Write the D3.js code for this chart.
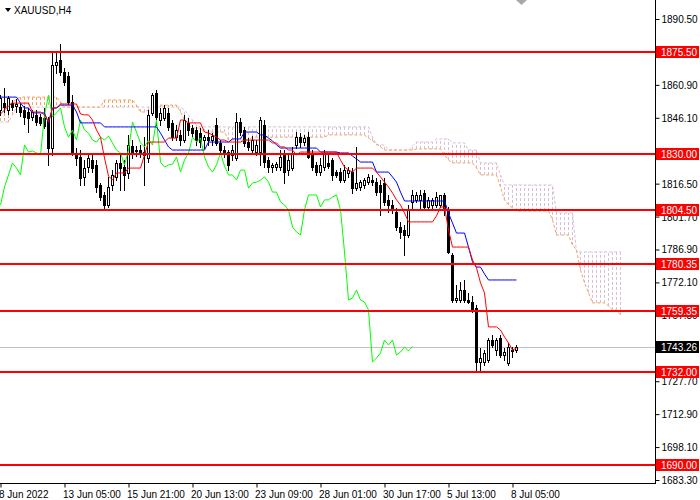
<!DOCTYPE html>
<html>
<head>
<meta charset="utf-8">
<script src="https://cdn.jsdelivr.net/npm/d3@7"></script>
<style>
  body { margin: 0; background: #fff; }
  svg text { font-family: "Liberation Sans", Arial, sans-serif; font-size: 10px; }
</style>
</head>
<body>
<div id="chart"></div>
<script>
// XAUUSD H4, one value per bar (bar 0 = 8 Jun 2022 13:00)
var opens = [
  1849.6, 1852.7, 1849.6, 1852.7, 1851.4, 1850.9, 1849.6, 1848.7, 1846.5, 1847.4,
  1846.5, 1846.0, 1845.1, 1832.5, 1869.8, 1872.1, 1866.7, 1864.9, 1853.2, 1830.3,
  1828.5, 1819.5, 1824.0, 1827.1, 1824.9, 1815.9, 1811.4, 1806.9, 1815.9, 1819.5,
  1825.8, 1824.0, 1821.3, 1833.4, 1831.6, 1831.6, 1830.7, 1828.0, 1848.3, 1857.2,
  1845.1, 1846.0, 1848.3, 1843.8, 1837.4, 1838.4, 1836.1, 1843.8, 1841.5, 1840.6,
  1839.2, 1836.1, 1837.4, 1836.1, 1842.9, 1834.8, 1831.6, 1830.7, 1829.4, 1828.0,
  1844.2, 1840.6, 1835.2, 1831.6, 1830.7, 1830.7, 1842.9, 1827.1, 1824.0, 1824.0,
  1824.0, 1830.3, 1822.6, 1823.5, 1833.9, 1837.4, 1835.2, 1837.4, 1829.4, 1824.9,
  1821.7, 1824.0, 1825.8, 1827.1, 1821.7, 1821.7, 1818.1, 1821.3, 1821.7, 1814.5,
  1815.0, 1815.9, 1817.2, 1818.1, 1817.2, 1815.9, 1816.8, 1809.2, 1806.9, 1803.8,
  1797.0, 1795.7, 1793.4, 1808.3, 1809.2, 1809.2, 1812.3, 1806.0, 1806.9, 1806.9,
  1806.9, 1811.4, 1804.7, 1784.4, 1764.2, 1764.2, 1768.7, 1764.2, 1763.3, 1760.6,
  1736.3, 1736.3, 1737.2, 1746.2, 1741.7, 1747.1, 1739.5, 1735.9, 1741.7, 1741.7
];
var highs = [
  1856.3, 1859.5, 1855.9, 1854.1, 1854.5, 1852.3, 1851.4, 1850.5, 1849.6, 1849.6,
  1847.8, 1850.5, 1846.5, 1875.2, 1875.7, 1879.3, 1868.5, 1866.7, 1856.3, 1832.5,
  1831.6, 1827.1, 1829.4, 1829.4, 1827.1, 1816.8, 1812.7, 1819.5, 1822.6, 1827.1,
  1829.4, 1827.1, 1838.4, 1836.1, 1833.4, 1833.9, 1837.4, 1849.6, 1857.2, 1858.6,
  1850.5, 1851.8, 1850.5, 1845.1, 1842.9, 1840.6, 1847.4, 1846.0, 1842.9, 1842.0,
  1841.5, 1838.4, 1840.6, 1839.2, 1846.0, 1836.1, 1833.4, 1831.6, 1833.9, 1848.3,
  1846.0, 1842.0, 1837.0, 1837.9, 1836.1, 1846.5, 1845.1, 1828.5, 1825.8, 1826.2,
  1831.6, 1831.6, 1829.4, 1833.0, 1839.7, 1839.2, 1838.4, 1839.7, 1831.6, 1826.2,
  1828.0, 1831.6, 1830.3, 1828.0, 1822.6, 1823.5, 1824.9, 1824.0, 1823.5, 1833.0,
  1818.1, 1819.0, 1820.8, 1820.4, 1819.0, 1818.1, 1819.0, 1811.4, 1809.2, 1805.6,
  1799.3, 1797.9, 1806.9, 1813.6, 1812.7, 1813.6, 1813.6, 1810.5, 1810.1, 1812.7,
  1811.4, 1812.3, 1806.0, 1785.3, 1771.0, 1772.3, 1773.2, 1767.4, 1766.0, 1762.0,
  1742.6, 1741.7, 1747.1, 1748.5, 1747.1, 1748.5, 1742.6, 1744.9, 1743.1, 1744.0
];
var lows = [
  1847.4, 1848.7, 1847.8, 1849.6, 1848.7, 1846.9, 1843.3, 1839.7, 1845.1, 1842.9,
  1842.9, 1841.5, 1824.9, 1829.4, 1866.2, 1865.3, 1860.8, 1852.3, 1829.4, 1824.9,
  1815.9, 1815.9, 1821.7, 1821.7, 1812.7, 1809.2, 1804.7, 1806.0, 1813.6, 1818.1,
  1813.6, 1813.6, 1819.0, 1828.0, 1828.9, 1828.5, 1815.9, 1826.2, 1847.4, 1842.9,
  1842.9, 1845.1, 1840.6, 1836.1, 1836.1, 1833.9, 1835.2, 1838.4, 1837.9, 1833.9,
  1833.0, 1832.5, 1833.9, 1833.9, 1833.9, 1830.3, 1828.5, 1822.6, 1827.1, 1827.1,
  1838.4, 1833.4, 1831.6, 1830.7, 1829.4, 1824.9, 1824.0, 1821.7, 1821.7, 1822.6,
  1822.6, 1816.8, 1820.4, 1822.6, 1832.5, 1833.0, 1833.9, 1828.0, 1822.6, 1820.4,
  1820.4, 1822.6, 1823.5, 1818.1, 1819.5, 1817.2, 1817.2, 1819.5, 1812.3, 1813.6,
  1813.6, 1814.5, 1816.3, 1815.9, 1811.4, 1802.4, 1806.9, 1803.8, 1803.3, 1795.7,
  1792.1, 1784.4, 1792.5, 1804.7, 1808.3, 1804.7, 1805.6, 1804.7, 1805.6, 1806.0,
  1806.0, 1802.4, 1785.3, 1763.3, 1763.3, 1763.3, 1763.3, 1762.9, 1758.8, 1731.9,
  1732.8, 1735.0, 1736.3, 1743.1, 1739.5, 1738.6, 1737.2, 1735.0, 1738.6, 1740.8
];
var closes = [
  1855.0, 1850.9, 1855.0, 1850.9, 1852.3, 1848.7, 1846.5, 1846.0, 1848.7, 1844.2,
  1843.8, 1842.4, 1832.5, 1869.8, 1871.2, 1866.7, 1862.2, 1853.2, 1830.3, 1828.0,
  1819.0, 1823.5, 1828.0, 1823.5, 1815.0, 1810.5, 1806.9, 1815.0, 1820.4, 1825.8,
  1823.5, 1820.4, 1833.9, 1830.7, 1831.2, 1830.3, 1829.4, 1847.4, 1856.3, 1846.5,
  1848.3, 1850.5, 1842.0, 1837.4, 1840.6, 1836.1, 1845.1, 1840.6, 1839.2, 1836.1,
  1835.2, 1837.4, 1836.1, 1837.9, 1834.8, 1831.6, 1830.3, 1824.9, 1831.6, 1844.2,
  1839.7, 1834.8, 1833.0, 1836.1, 1833.9, 1845.1, 1826.2, 1824.0, 1824.9, 1825.3,
  1828.5, 1821.7, 1827.1, 1830.3, 1837.4, 1835.2, 1837.0, 1828.5, 1824.0, 1821.7,
  1824.9, 1830.3, 1824.4, 1820.4, 1820.4, 1818.1, 1822.6, 1822.6, 1814.5, 1816.8,
  1817.2, 1818.1, 1819.5, 1817.2, 1812.7, 1812.7, 1808.3, 1806.9, 1804.7, 1797.0,
  1794.8, 1793.4, 1804.7, 1811.4, 1811.4, 1811.4, 1806.0, 1809.2, 1809.2, 1810.5,
  1811.4, 1804.7, 1785.8, 1764.2, 1765.1, 1768.7, 1764.2, 1763.3, 1759.7, 1736.3,
  1738.1, 1740.4, 1746.2, 1744.0, 1746.2, 1739.5, 1740.8, 1743.1, 1741.3, 1743.26
];

// Ichimoku lines: [first bar, value]
var tenkanRuns = [
  [0, 1847.8], [1, 1849.6], [2, 1851.4], [3, 1852.7], [8, 1848.7], [11, 1847.4], [12, 1844.2],
  [13, 1850.5], [15, 1852.3], [20, 1847.8], [21, 1847.4], [23, 1845.1], [24, 1840.6], [25, 1837.4],
  [26, 1828.0], [27, 1819.9], [28, 1818.1], [29, 1821.3], [32, 1823.5], [36, 1829.4], [37, 1835.2],
  [42, 1837.0], [45, 1845.1], [47, 1843.8], [51, 1839.7], [52, 1839.2], [53, 1838.4], [54, 1837.4],
  [55, 1836.1], [57, 1835.2], [61, 1836.1], [68, 1834.8], [70, 1833.0], [72, 1831.6], [74, 1829.4],
  [75, 1830.7], [85, 1827.1], [86, 1824.0], [87, 1822.6], [88, 1821.7], [89, 1823.5], [94, 1821.7],
  [95, 1819.5], [96, 1817.2], [97, 1815.0], [98, 1812.3], [99, 1809.2], [100, 1806.9], [101, 1803.3],
  [102, 1799.3], [109, 1802.0], [110, 1806.0], [112, 1795.7], [113, 1788.0], [118, 1782.2],
  [119, 1778.6], [120, 1771.9], [121, 1767.4], [122, 1752.1], [125, 1750.7], [126, 1747.6],
  [127, 1744.9], [128, 1741.7], [129, 1742.6]
];
var kijunRuns = [
  [0, 1855.4], [5, 1852.7], [6, 1850.5], [8, 1848.3], [12, 1843.8], [13, 1850.5], [15, 1851.8],
  [19, 1848.7], [20, 1843.8], [26, 1842.0], [40, 1839.2], [41, 1836.1], [42, 1833.0], [43, 1831.6],
  [52, 1835.2], [58, 1836.6], [61, 1839.7], [65, 1838.4], [67, 1837.0], [68, 1835.7], [69, 1833.9],
  [70, 1832.5], [80, 1830.7], [85, 1830.3], [88, 1828.9], [89, 1827.6], [90, 1826.2], [94, 1821.7],
  [98, 1819.5], [99, 1817.2], [100, 1812.7], [101, 1808.7], [112, 1803.3], [113, 1798.8],
  [114, 1794.3], [117, 1788.0], [118, 1781.3], [119, 1779.0], [121, 1775.9], [122, 1773.2]
];
// cloud runs, bars 0..155 (26 bars ahead of the last candle)
var spanARuns = [
  [0, 1850.5], [2, 1851.8], [3, 1853.2], [4, 1854.5], [5, 1855.4], [15, 1853.2], [16, 1850.9],
  [26, 1854.1], [34, 1851.8], [35, 1848.7], [37, 1849.6], [38, 1850.9], [39, 1851.8], [45, 1848.7],
  [46, 1845.1], [47, 1842.9], [48, 1841.5], [51, 1839.7], [57, 1836.1], [63, 1837.4], [82, 1838.4],
  [92, 1837.0], [93, 1835.7], [94, 1834.3], [95, 1833.0], [96, 1831.6], [104, 1832.1], [111, 1829.4],
  [112, 1827.1], [113, 1825.8], [119, 1823.5], [120, 1820.4], [125, 1815.0], [126, 1809.2],
  [127, 1806.9], [128, 1805.6], [129, 1804.2], [138, 1800.2], [139, 1793.4], [143, 1788.9],
  [144, 1786.7], [145, 1777.7], [146, 1771.9], [147, 1767.4], [148, 1762.9], [152, 1761.5],
  [153, 1759.7], [155, 1757.5]
];
var spanBRuns = [
  [0, 1844.2], [3, 1847.4], [4, 1850.9], [46, 1849.6], [47, 1847.4], [48, 1845.1], [49, 1842.9],
  [50, 1842.0], [93, 1837.4], [94, 1833.9], [97, 1831.6], [103, 1833.4], [104, 1835.2], [109, 1836.6],
  [113, 1834.8], [117, 1831.6], [120, 1825.8], [125, 1820.4], [126, 1815.9], [139, 1803.3], [144, 1785.8]
];
var cloudBars = 156;

// horizontal levels
var levels = [1875.50, 1830.00, 1804.50, 1780.35, 1759.35, 1732.00, 1690.00];
var bid = 1743.26;

// axis ticks (labels hidden behind a price tag are not drawn, as on the terminal)
var yTicks = [1890.50, 1875.70, 1860.90, 1846.10, 1831.30, 1816.50, 1801.70, 1786.90,
  1772.10, 1757.30, 1742.50, 1727.70, 1712.90, 1698.10, 1683.30];
var xTickBars = [0, 16, 32, 48, 64, 80, 96, 112, 128];
var xTickLabels = ["8 Jun 2022", "13 Jun 05:00", "15 Jun 21:00", "20 Jun 13:00", "23 Jun 09:00",
  "28 Jun 01:00", "30 Jun 17:00", "5 Jul 13:00", "8 Jul 05:00"];

function expandRuns(runs, n) {
  var out = [];
  for (var k = 0; k < runs.length; k++) {
    var end = k + 1 < runs.length ? runs[k + 1][0] : n;
    for (var i = runs[k][0]; i < end; i++) out.push(runs[k][1]);
  }
  return out;
}

var tenkan = expandRuns(tenkanRuns, closes.length);
var kijun = expandRuns(kijunRuns, closes.length);
var spanA = expandRuns(spanARuns, cloudBars);
var spanB = expandRuns(spanBRuns, cloudBars);
// chikou: close drawn 26 bars back
var chikou = closes.slice(26);

var margin = { top: 0, right: 45, bottom: 17, left: 0 },
  width = 700 - margin.left - margin.right,
  height = 500 - margin.top - margin.bottom;

var svg = d3
  .select("#chart")
  .append("svg")
  .attr("width", 700)
  .attr("height", 500)
  .style("display", "block")
  .append("g")
  .attr("transform", "translate(" + margin.left + "," + margin.top + ")");

var x = d3.scaleLinear().domain([0, 130]).range([0.5, 520.5]);
var y = d3.scaleLinear().domain([1681.95, 1899.04]).range([height, 0]);

svg.append("clipPath").attr("id", "plot")
  .append("rect").attr("width", width).attr("height", height);

var plot = svg.append("g").attr("clip-path", "url(#plot)");

function py(v) { return Math.round(y(v)) + 0.5; }

// bid line
plot.append("line")
  .attr("x1", 0).attr("x2", width)
  .attr("y1", py(bid)).attr("y2", py(bid))
  .attr("stroke", "#c0c0c0");

// kumo hatch
var bars = d3.range(cloudBars);
plot.selectAll(".hatch")
  .data(bars)
  .enter()
  .append("line")
  .attr("class", "hatch")
  .attr("x1", function (i) { return x(i); })
  .attr("x2", function (i) { return x(i); })
  .attr("y1", function (i) { return y(spanA[i]); })
  .attr("y2", function (i) { return y(spanB[i]); })
  .attr("stroke", function (i) { return spanA[i] >= spanB[i] ? "#f4a460" : "#d8bfd8"; })
  .attr("stroke-dasharray", "3,2");

function lineOf(values) {
  return d3.line()
    .x(function (d, i) { return x(i); })
    .y(function (d) { return y(d); })(values);
}

plot.append("path").attr("d", lineOf(spanB))
  .attr("fill", "none").attr("stroke", "#d8bfd8").attr("stroke-dasharray", "3,2");
plot.append("path").attr("d", lineOf(spanA))
  .attr("fill", "none").attr("stroke", "#f4a460").attr("stroke-dasharray", "3,2");

// candles
var idx = d3.range(closes.length);
plot.selectAll(".wick")
  .data(idx)
  .enter()
  .append("line")
  .attr("class", "wick")
  .attr("x1", function (i) { return x(i); })
  .attr("x2", function (i) { return x(i); })
  .attr("y1", function (i) { return Math.round(y(highs[i])); })
  .attr("y2", function (i) { return Math.round(y(lows[i])) + 1; })
  .attr("stroke", "#000")
  .attr("shape-rendering", "crispEdges");

plot.selectAll(".body")
  .data(idx)
  .enter()
  .append("rect")
  .attr("class", "body")
  .attr("x", function (i) { return x(i) - 1; })
  .attr("width", 2)
  .attr("y", function (i) { return Math.round(y(Math.max(opens[i], closes[i]))) + 0.5; })
  .attr("height", function (i) {
    var h = Math.round(y(Math.min(opens[i], closes[i]))) - Math.round(y(Math.max(opens[i], closes[i])));
    return Math.max(h, 0);
  })
  .attr("fill", function (i) { return closes[i] > opens[i] ? "#fff" : "#000"; })
  .attr("stroke", "#000")
  .attr("shape-rendering", "crispEdges");

// ichimoku lines
plot.append("path").attr("d", lineOf(chikou))
  .attr("fill", "none").attr("stroke", "#00ff00");
plot.append("path").attr("d", lineOf(kijun))
  .attr("fill", "none").attr("stroke", "#0000ff");
plot.append("path").attr("d", lineOf(tenkan))
  .attr("fill", "none").attr("stroke", "#ff0000");

// horizontal levels
plot.selectAll(".level")
  .data(levels)
  .enter()
  .append("line")
  .attr("class", "level")
  .attr("x1", 0).attr("x2", width)
  .attr("y1", function (d) { return Math.round(y(d)); })
  .attr("y2", function (d) { return Math.round(y(d)); })
  .attr("stroke", "#ff0000")
  .attr("stroke-width", 2);

// chart shift marker
svg.append("path")
  .attr("d", "M516,0 L527,0 L521.5,5 Z")
  .attr("fill", "#a8a8a8");

// axes frame
svg.append("line").attr("x1", width + 0.5).attr("x2", width + 0.5)
  .attr("y1", 0).attr("y2", height + 1).attr("stroke", "#000");
svg.append("line").attr("x1", 0).attr("x2", width + 1)
  .attr("y1", height + 0.5).attr("y2", height + 0.5).attr("stroke", "#000");

var tagValues = levels.concat([bid]);
function hidden(v) {
  return tagValues.some(function (t) { return Math.abs(y(t) - y(v)) < 4; });
}

var yAxis = svg.append("g")
  .attr("transform", "translate(" + (width + 0.5) + ",0)")
  .call(d3.axisRight(y).tickValues(yTicks).tickSize(4).tickSizeOuter(0).tickPadding(2)
    .tickFormat(d3.format(".2f")));
yAxis.select(".domain").remove();
yAxis.selectAll("text").attr("dy", "0.35em");
yAxis.selectAll(".tick").filter(function (d) { return hidden(d); }).select("text").remove();
yAxis.attr("font-family", null).attr("font-size", null);

var xAxis = svg.append("g")
  .attr("transform", "translate(0," + (height + 0.5) + ")")
  .call(d3.axisBottom(x).tickValues(xTickBars).tickSize(4).tickSizeOuter(0).tickPadding(3)
    .tickFormat(function (d, i) { return xTickLabels[i]; }));
xAxis.select(".domain").remove();
xAxis.attr("font-family", null).attr("font-size", null);
xAxis.selectAll("text").attr("text-anchor", "start").attr("x", -2);

// level labels on the price scale
var tags = levels.map(function (v) { return { v: v, fill: "#ff0000" }; });
tags.push({ v: bid, fill: "#000000" });
var tag = svg.selectAll(".tag")
  .data(tags)
  .enter()
  .append("g")
  .attr("class", "tag")
  .attr("transform", function (d) { return "translate(" + (width + 1) + "," + Math.round(y(d.v)) + ")"; });
tag.append("rect")
  .attr("x", 0).attr("y", -6).attr("width", 43).attr("height", 12)
  .attr("fill", function (d) { return d.fill; });
tag.append("text")
  .attr("x", 5).attr("dy", "0.35em")
  .attr("fill", "#fff")
  .text(function (d) { return d.v.toFixed(2); });

// title
svg.append("path").attr("d", "M5,8 L11,8 L8,12 Z").attr("fill", "#000");
svg.append("text").attr("x", 14).attr("y", 14).attr("fill", "#000").text("XAUUSD,H4");
</script>
</body>
</html>
